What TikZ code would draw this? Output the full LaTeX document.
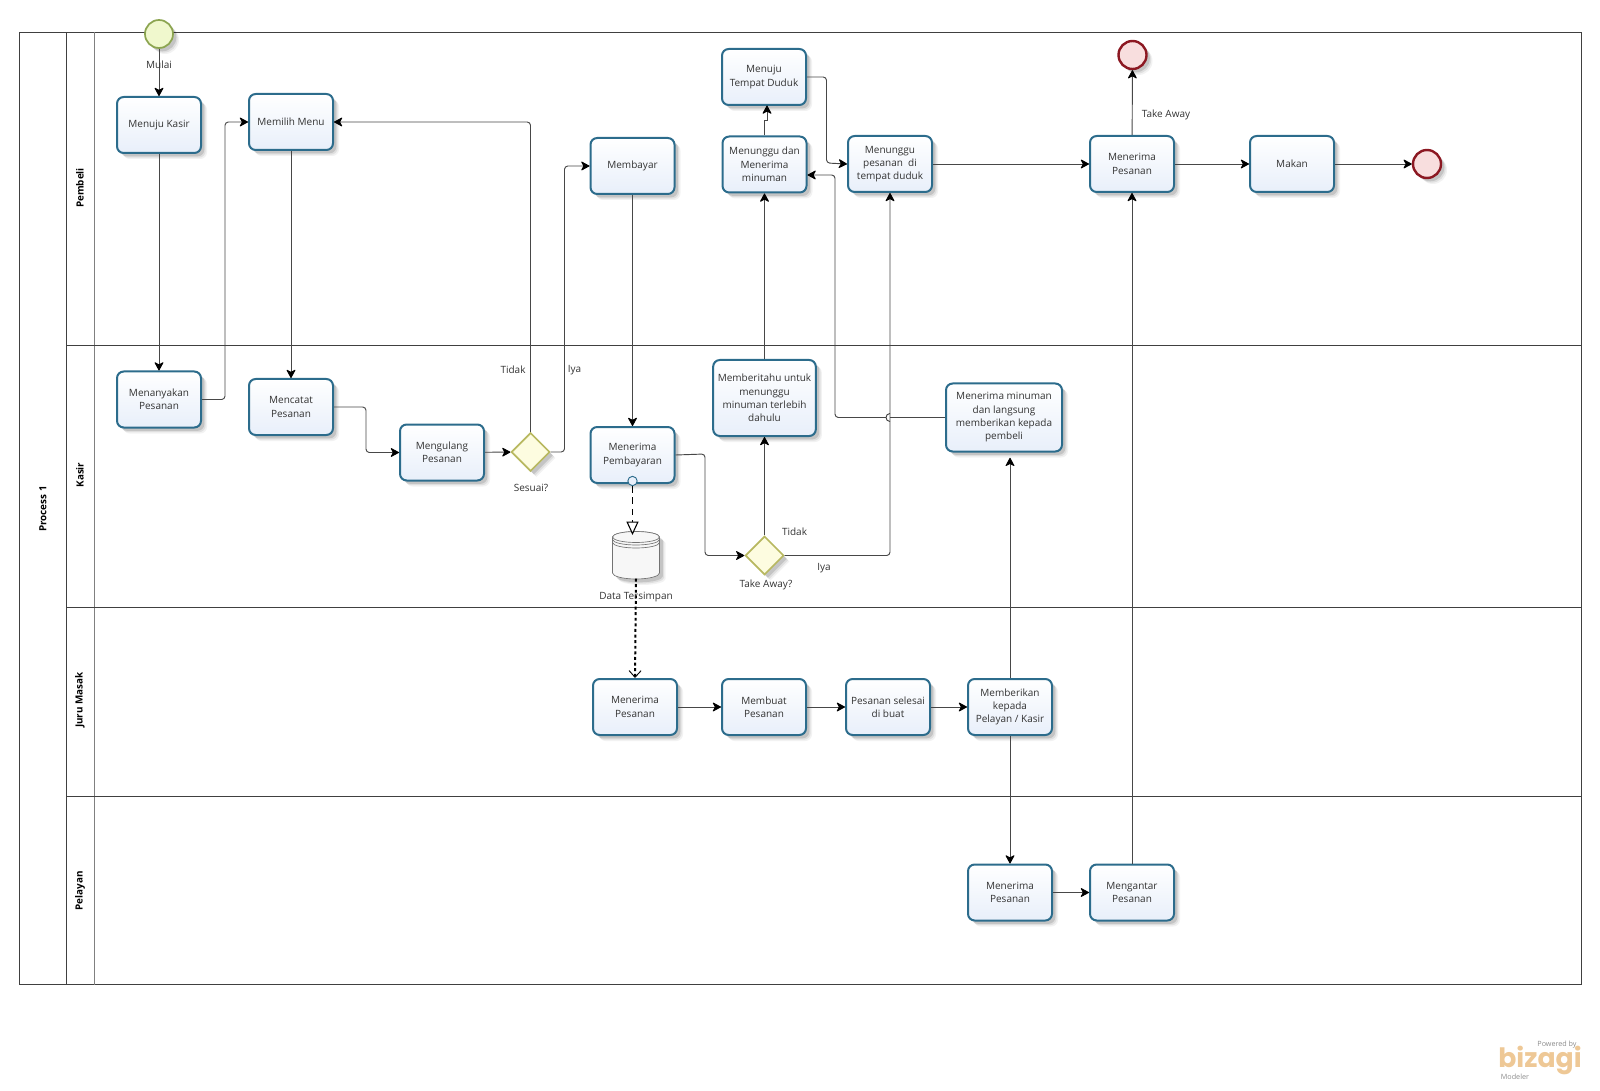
\documentclass[tikz,border=0pt]{standalone}
\usepackage{fontspec}
\setmainfont{Open Sans}
\newfontfamily\logofont{Poppins}
\usetikzlibrary{arrows.meta,shapes.geometric,shadows}

\definecolor{taskline}{RGB}{44,108,140}
\definecolor{taskfill}{RGB}{232,239,250}
\definecolor{startline}{RGB}{140,165,80}
\definecolor{startfill}{RGB}{240,248,205}
\definecolor{endline}{RGB}{140,24,34}
\definecolor{endfill}{RGB}{248,222,222}
\definecolor{gateline}{RGB}{184,184,96}
\definecolor{gatefill}{RGB}{253,252,224}
\definecolor{logotan}{RGB}{238,200,150}

\tikzset{
  softshadow/.style={drop shadow={shadow xshift=4.5pt,shadow yshift=-4.5pt,fill=black,opacity=.05},
    drop shadow={shadow xshift=3.5pt,shadow yshift=-3.5pt,fill=black,opacity=.08},
    drop shadow={shadow xshift=2.5pt,shadow yshift=-2.5pt,fill=black,opacity=.12}},
  task/.style={draw=taskline,line width=1.5pt,rounded corners=5pt,top color=white,bottom color=taskfill,
    minimum width=63pt,minimum height=42pt,align=center,font=\fontsize{7.5}{10}\selectfont,text=black!80,softshadow},
  startevent/.style={circle,draw=startline,line width=1.3pt,fill=startfill,minimum size=21pt,inner sep=0pt,softshadow},
  endevent/.style={circle,draw=endline,line width=1.8pt,fill=endfill,minimum size=21pt,inner sep=0pt,softshadow},
  gateway/.style={diamond,draw=gateline,line width=1.3pt,fill=gatefill,minimum size=29pt,inner sep=0pt,softshadow},
  label/.style={font=\fontsize{7.5}{10}\selectfont,text=black!80,inner sep=0pt,yshift=-1.5pt},
  lanehead/.style={rotate=90,font=\fontsize{7.4}{10}\selectfont\bfseries,inner sep=0pt},
  flow/.style={line width=.7pt,draw=black!72,rounded corners=2.5pt,-{Stealth[length=7pt,width=7.5pt,inset=2pt,round,black]}},
  frameline/.style={line width=.7pt,draw=black!75},
  storeline/.style={line width=.5pt,draw=black!55}
}

\begin{document}
\begin{tikzpicture}[x=0.75pt,y=0.75pt,yscale=-1,xscale=1]
\useasboundingbox (0,0) rectangle (1600,1091);

%Pool and lanes
\draw [frameline] (19.5,32.5) rectangle (1581.5,984.5);
\draw [frameline] (66.5,32.5) -- (66.5,984.5);
\draw [frameline,draw=black!50] (94.5,32.5) -- (94.5,984.5);
\draw [frameline] (66.5,345) -- (1581.5,345);
\draw [frameline] (66.5,607) -- (1581.5,607);
\draw [frameline] (66.5,796) -- (1581.5,796);
\node [lanehead] (pool) at (43,509) {Process 1};
\node [lanehead] (pembeli) at (80,188) {Pembeli};
\node [lanehead] (kasir) at (80,475) {Kasir};
\node [lanehead] (juru) at (80,700) {Juru Masak};
\node [lanehead] (pelayan) at (80,891) {Pelayan};

%Pembeli
\node [startevent] (mulai) at (159,34) {};
\node [task] (kekasir) at (159,125) {Menuju Kasir};
\node [task] (memilih) at (291,122) {Memilih Menu};
\node [task] (membayar) at (632.5,166) {Membayar};
\node [task] (ketempat) at (764,77) {Menuju\\Tempat Duduk};
\node [task] (tunggu) at (764.5,164.5) {Menunggu dan\\Menerima\\minuman};
\node [task] (duduk) at (890,164) {Menunggu\\pesanan \ di\\tempat duduk};
\node [task] (terima) at (1132,164) {Menerima\\Pesanan};
\node [task] (makan) at (1292,164) {Makan};
\node [endevent] (selesaia) at (1132.5,55) {};
\node [endevent] (selesaib) at (1427,164) {};

%Kasir
\node [task] (tanya) at (159,399.5) {Menanyakan\\Pesanan};
\node [task] (catat) at (291,407) {Mencatat\\Pesanan};
\node [task] (ulang) at (442,452.5) {Mengulang\\Pesanan};
\node [gateway] (sesuai) at (530.5,452) {};
\node [task] (bayar) at (632.5,455) {Menerima\\Pembayaran};
\node [gateway] (takeaway) at (764.5,555.5) {};
\node [task,minimum width=77pt,minimum height=57pt] (beritahu) at (764.5,398) {Memberitahu untuk\\menunggu\\minuman terlebih\\dahulu};
\node [task,minimum width=87pt,minimum height=51pt] (minum) at (1004,417.5) {Menerima minuman\\dan langsung\\memberikan kepada\\pembeli};
\node [minimum width=35pt,minimum height=35pt,inner sep=0pt] (store) at (636,555) {};
\draw [storeline,fill=black!3,softshadow] (612.5,537) arc [start angle=180,end angle=360,x radius=23.5,y radius=5.5] -- (659.5,573) arc [start angle=0,end angle=180,x radius=23.5,y radius=6] -- cycle;
\draw [storeline,fill=black!3] (636,537) ellipse [x radius=23.5,y radius=5.5];
\draw [storeline] (612.5,539.5) arc [start angle=180,end angle=0,x radius=23.5,y radius=5.5];
\draw [storeline] (612.5,542.5) arc [start angle=180,end angle=0,x radius=23.5,y radius=5.5];
\node [circle,draw=taskline,line width=.7pt,fill=taskfill,minimum size=7pt,inner sep=0pt] (pesan) at (632.5,481) {};
\coordinate (storein) at (632.5,535);

%Juru Masak
\node [task] (dapur) at (635,707) {Menerima\\Pesanan};
\node [task] (buat) at (764,707) {Membuat\\Pesanan};
\node [task] (jadi) at (888,707) {Pesanan selesai\\di buat};
\node [task] (beri) at (1010,707) {Memberikan\\kepada\\Pelayan / Kasir};

%Pelayan
\node [task] (pelayanterima) at (1010,892.5) {Menerima\\Pesanan};
\node [task] (antar) at (1132,892.5) {Mengantar\\Pesanan};

%Straight Lines
\draw [flow] (mulai) -- (kekasir);
\draw [flow] (kekasir) -- (tanya);
\draw [flow] (memilih) -- (catat);
\draw [flow] (ulang) -- (sesuai);
\draw [flow] (membayar) -- (bayar);
\draw [flow] (takeaway) -- (beritahu);
\draw [flow] (beritahu) -- (tunggu);
\draw [flow,rounded corners=0pt] (tunggu.north) -- ++(0,-15) -- ++(2.5,0) -- ++(0,-15);
\draw [flow] (duduk) -- (terima);
\draw [flow] (terima) -- (selesaia);
\draw [flow] (terima) -- (makan);
\draw [flow] (makan) -- (selesaib);
\draw [flow] (dapur) -- (buat);
\draw [flow] (buat) -- (jadi);
\draw [flow] (jadi) -- (beri);
\draw [flow] (beri) -- (pelayanterima);
\draw [flow] (pelayanterima) -- (antar);
\draw [flow] (antar) -- (terima);
\draw [flow,shorten >=4pt] (beri.north) -- (beri.north |- minum.south);

%Elbow Lines
\draw [flow] (tanya.east) -- (225,399.5) -- (225,122) -- (memilih.west);
\draw [flow] (catat.east) -- (366,407) -- (366,452.5) -- (ulang.west);
\draw [flow] (sesuai.north) -- (530.5,122) -- (memilih.east);
\draw [flow] (sesuai.east) -- (564.5,452) -- (564.5,166) -- (membayar.west);
\draw [flow] (bayar.east) -- (705,454) -- (705,555.5) -- (takeaway.west);
\draw [flow] (ketempat.east) -- (826.5,77) -- (826.5,163) -- (duduk.west);
\draw [flow] (takeaway.east) -- (890,555.5) -- (duduk.south);
\draw [flow] (minum.west) -- (890,417.5) (886,417.5) -- (835,417.5) -- (835,175) -- (tunggu.east |- 835,175);
\draw [frameline] (890,413.5) arc [start angle=270,end angle=90,radius=4];

%Data flows
\draw [line width=.8pt,draw=black,dash pattern=on 5pt off 3.5pt,-{Triangle[open,length=10pt,width=9pt,fill=white,black]}] (pesan) -- (storein);
\draw [line width=1.5pt,draw=black,dash pattern=on 2.2pt off 2pt,-{Straight Barb[length=5pt,width=9pt,line width=.7pt,black]}] (store.south) -- (dapur.north);

%Labels
\node [label] (mulaitext) at (159,63) {Mulai};
\node [label] (tidaka) at (513,368) {Tidak};
\node [label] (iyaa) at (574.5,368) {Iya};
\node [label] (sesuaitext) at (531,486) {Sesuai?};
\node [label] (tidakb) at (794.5,530) {Tidak};
\node [label] (iyab) at (824,566.5) {Iya};
\node [label] (awaytext) at (766,583) {Take Away?};
\node [label] (storetext) at (636,595.5) {Data Tersimpan};
\node [label] (awaylabel) at (1166,113) {Take Away};

%Logo
\node [font=\fontsize{5.4}{6}\selectfont,text=black!45,inner sep=0pt] (poweredby) at (1557,1045) {Powered by};
\node [font=\fontsize{20}{20}\logofont\bfseries\selectfont,text=logotan,inner sep=0pt] (bizagi) at (1540,1060) {bizagi};
\node [font=\fontsize{5.4}{6}\selectfont,text=black!45,inner sep=0pt] (modeler) at (1515,1077) {Modeler};

\end{tikzpicture}
\end{document}
